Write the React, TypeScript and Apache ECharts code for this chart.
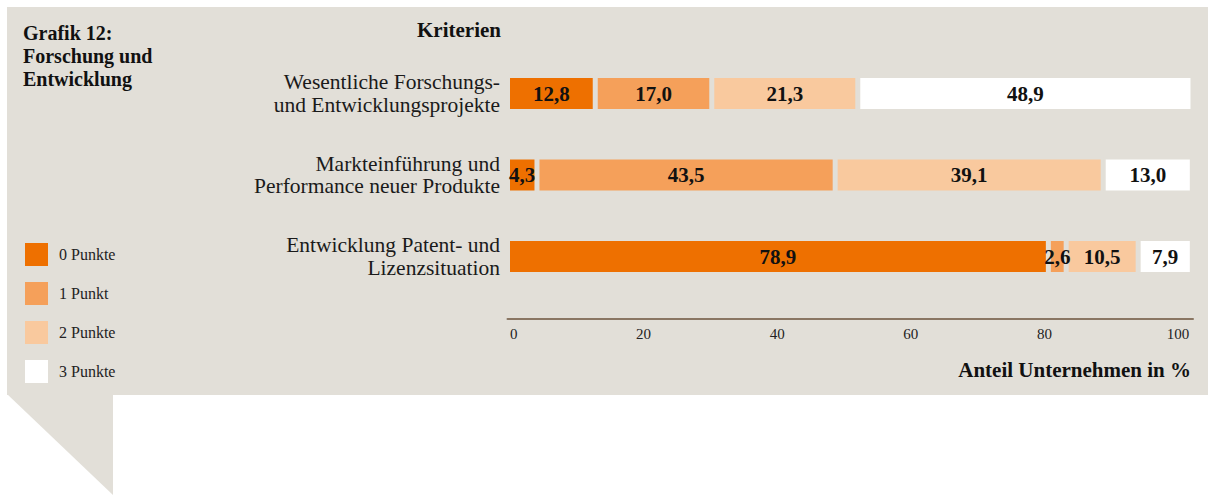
import React, { useEffect, useRef } from "react";
import * as echarts from "echarts";

const categories = [
  "Wesentliche Forschungs-\nund Entwicklungsprojekte",
  "Markteinführung und\nPerformance neuer Produkte",
  "Entwicklung Patent- und\nLizenzsituation",
];
const seriesNames = ["0 Punkte", "1 Punkt", "2 Punkte", "3 Punkte"];
const punkte0 = [12.8, 4.3, 78.9];
const punkte1 = [17.0, 43.5, 2.6];
const punkte2 = [21.3, 39.1, 10.5];
const punkte3 = [48.9, 13.0, 7.9];
const seriesValues = [punkte0, punkte1, punkte2, punkte3];
const seriesColors = ["#ee7000", "#f5a05a", "#f9c99e", "#ffffff"];
const tickValues = [0, 20, 40, 60, 80, 100];

const FONT = "'Liberation Serif', 'Times New Roman', serif";
const BG = "#e2dfd8";

export default function App() {
  const ref = useRef<HTMLDivElement>(null);
  useEffect(() => {
    if (!ref.current) return;
    const chart = echarts.init(ref.current, undefined, { renderer: "svg" });
    const fmt = (v: number) => v.toFixed(1).replace(".", ",");
    chart.setOption({
      animation: false,
      backgroundColor: "#ffffff",
      textStyle: { fontFamily: FONT },
      title: {
        text: "Grafik 12:\nForschung und\nEntwicklung",
        left: 18,
        top: 16,
        textStyle: {
          fontFamily: FONT,
          fontSize: 20,
          fontWeight: "bold",
          lineHeight: 23,
          color: "#111",
        },
      },
      legend: {
        orient: "vertical",
        left: 20,
        top: 238,
        itemWidth: 23,
        itemHeight: 23,
        itemGap: 16,
        icon: "rect",
        itemStyle: { borderWidth: 0 },
        data: seriesNames,
        textStyle: {
          fontFamily: FONT,
          fontSize: 16,
          color: "#222",
          padding: [0, 0, 0, 6],
        },
      },
      graphic: [
        {
          type: "rect",
          z: -10,
          silent: true,
          shape: { x: 7, y: 7, width: 1201, height: 388 },
          style: { fill: BG },
        },
        {
          type: "polygon",
          z: -10,
          silent: true,
          shape: { points: [[7, 394], [113, 394], [113, 495]] },
          style: { fill: BG },
        },
        {
          type: "text",
          x: 501,
          y: 30,
          style: {
            text: "Kriterien",
            align: "right",
            verticalAlign: "middle",
            font: `bold 21px ${FONT}`,
            fill: "#111",
          },
        },
        {
          type: "text",
          x: 1191,
          y: 370,
          style: {
            text: "Anteil Unternehmen in %",
            align: "right",
            verticalAlign: "middle",
            font: `bold 21px ${FONT}`,
            fill: "#111",
          },
        },
      ],
      grid: [
        { left: 507.5, right: 15, top: 52.75, bottom: 495 - 297.25 },
        { left: 510, width: 668, top: 300, height: 18 },
      ],
      xAxis: [
        {
          type: "value",
          gridIndex: 0,
          min: 0,
          max: 100,
          offset: 21,
          axisLine: { show: true, lineStyle: { color: "#8a7663", width: 2 } },
          axisTick: { show: false },
          axisLabel: { show: false },
          splitLine: { show: false },
        },
        {
          type: "value",
          gridIndex: 1,
          min: 0,
          max: 100,
          interval: 20,
          axisLine: { show: false },
          axisTick: { show: false },
          splitLine: { show: false },
          axisLabel: {
            show: true,
            margin: 8,
            fontFamily: FONT,
            fontSize: 15,
            color: "#222",
            alignMinLabel: "left",
            formatter: (v: number) => (tickValues.includes(v) ? String(v) : ""),
          },
        },
      ],
      yAxis: [
        {
          type: "category",
          gridIndex: 0,
          inverse: true,
          data: categories,
          axisLine: { show: false },
          axisTick: { show: false },
          axisLabel: {
            margin: 7.5,
            fontFamily: FONT,
            fontSize: 21.5,
            lineHeight: 22.5,
            color: "#1a1a1a",
            align: "right",
          },
        },
        { type: "value", gridIndex: 1, show: false, min: 0, max: 1 },
      ],
      series: seriesNames.map((name, i) => ({
        name,
        type: "bar",
        stack: "total",
        xAxisIndex: 0,
        yAxisIndex: 0,
        barWidth: 36,
        data: seriesValues[i],
        itemStyle: {
          color: seriesColors[i],
          borderColor: BG,
          borderWidth: 2.5,
        },
        label: {
          show: true,
          position: "inside",
          formatter: (p: any) => fmt(p.value),
          fontFamily: FONT,
          fontSize: 21,
          fontWeight: "bold",
          color: "#111",
        },
      })),
    });
    return () => chart.dispose();
  }, []);
  return (
    <div
      ref={ref}
      style={{ position: "absolute", left: 0, top: 0, width: 1208, height: 495 }}
    />
  );
}
